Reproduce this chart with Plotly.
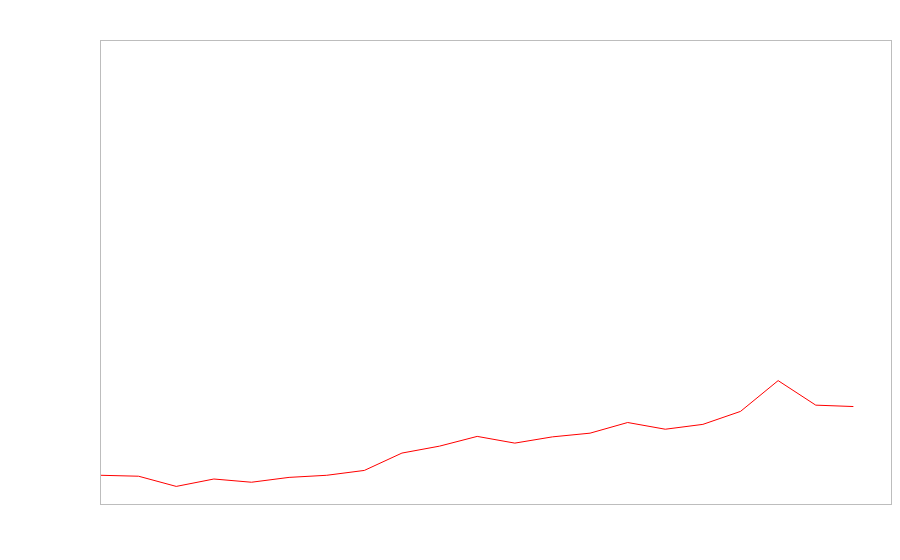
import plotly.graph_objects as go

# index of each point along the x axis
x_index = list(range(21))
# values (axis scale 0-100, no labels shown)
series_values = [6.2, 6.0, 3.8, 5.4, 4.7, 5.75, 6.2, 7.25, 11.0, 12.5, 14.6,
                 13.15, 14.5, 15.3, 17.6, 16.15, 17.2, 20.0, 26.65, 21.35, 21.05]

fig = go.Figure(go.Scatter(
    x=x_index,
    y=series_values,
    mode="lines",
    line=dict(color="red", width=1),
    hoverinfo="x+y",
))

axis_style = dict(
    showgrid=False,
    zeroline=False,
    showticklabels=False,
    ticks="",
    showline=True,
    mirror=True,
    linecolor="#bdbdbd",
    linewidth=1,
)

# the page body adds an 8px margin, so the figure is sized to fit inside it
fig.update_layout(
    width=884,
    height=544,
    margin=dict(l=93, r=1, t=33, b=48),
    paper_bgcolor="white",
    plot_bgcolor="white",
    showlegend=False,
    xaxis=dict(range=[0, 21], **axis_style),
    yaxis=dict(range=[0, 100], **axis_style),
)

fig.write_html("out.html")
